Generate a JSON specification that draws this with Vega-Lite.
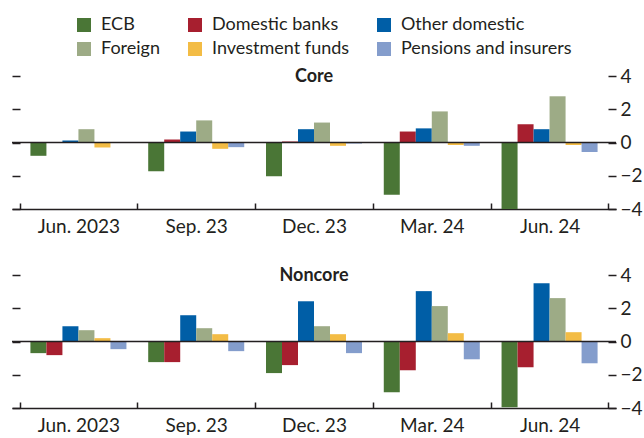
{
  "$schema": "https://vega.github.io/schema/vega-lite/v6.json",
  "padding": {"left": 11, "top": 16, "right": 0, "bottom": 0},
  "config": {
    "view": {"stroke": null},
    "font": "Lato, Liberation Sans, sans-serif",
    "axis": {"grid": false, "labelColor": "#231f20", "tickColor": "#231f20", "domainColor": "#231f20"}
  },
  "datasets": {
    "flows": [
      {"panel": "Core", "quarter": "Jun. 2023", "sector": "ECB", "value": -0.8},
      {"panel": "Core", "quarter": "Jun. 2023", "sector": "Domestic banks", "value": 0.0},
      {"panel": "Core", "quarter": "Jun. 2023", "sector": "Other domestic", "value": 0.12},
      {"panel": "Core", "quarter": "Jun. 2023", "sector": "Foreign", "value": 0.8},
      {"panel": "Core", "quarter": "Jun. 2023", "sector": "Investment funds", "value": -0.3},
      {"panel": "Core", "quarter": "Jun. 2023", "sector": "Pensions and insurers", "value": 0.0},
      {"panel": "Core", "quarter": "Sep. 23", "sector": "ECB", "value": -1.73},
      {"panel": "Core", "quarter": "Sep. 23", "sector": "Domestic banks", "value": 0.18},
      {"panel": "Core", "quarter": "Sep. 23", "sector": "Other domestic", "value": 0.66},
      {"panel": "Core", "quarter": "Sep. 23", "sector": "Foreign", "value": 1.33},
      {"panel": "Core", "quarter": "Sep. 23", "sector": "Investment funds", "value": -0.38},
      {"panel": "Core", "quarter": "Sep. 23", "sector": "Pensions and insurers", "value": -0.28},
      {"panel": "Core", "quarter": "Dec. 23", "sector": "ECB", "value": -2.03},
      {"panel": "Core", "quarter": "Dec. 23", "sector": "Domestic banks", "value": 0.06},
      {"panel": "Core", "quarter": "Dec. 23", "sector": "Other domestic", "value": 0.8},
      {"panel": "Core", "quarter": "Dec. 23", "sector": "Foreign", "value": 1.2},
      {"panel": "Core", "quarter": "Dec. 23", "sector": "Investment funds", "value": -0.2},
      {"panel": "Core", "quarter": "Dec. 23", "sector": "Pensions and insurers", "value": -0.06},
      {"panel": "Core", "quarter": "Mar. 24", "sector": "ECB", "value": -3.15},
      {"panel": "Core", "quarter": "Mar. 24", "sector": "Domestic banks", "value": 0.66},
      {"panel": "Core", "quarter": "Mar. 24", "sector": "Other domestic", "value": 0.85},
      {"panel": "Core", "quarter": "Mar. 24", "sector": "Foreign", "value": 1.87},
      {"panel": "Core", "quarter": "Mar. 24", "sector": "Investment funds", "value": -0.15},
      {"panel": "Core", "quarter": "Mar. 24", "sector": "Pensions and insurers", "value": -0.2},
      {"panel": "Core", "quarter": "Jun. 24", "sector": "ECB", "value": -4.0},
      {"panel": "Core", "quarter": "Jun. 24", "sector": "Domestic banks", "value": 1.1},
      {"panel": "Core", "quarter": "Jun. 24", "sector": "Other domestic", "value": 0.8},
      {"panel": "Core", "quarter": "Jun. 24", "sector": "Foreign", "value": 2.78},
      {"panel": "Core", "quarter": "Jun. 24", "sector": "Investment funds", "value": -0.15},
      {"panel": "Core", "quarter": "Jun. 24", "sector": "Pensions and insurers", "value": -0.57},
      {"panel": "Noncore", "quarter": "Jun. 2023", "sector": "ECB", "value": -0.7},
      {"panel": "Noncore", "quarter": "Jun. 2023", "sector": "Domestic banks", "value": -0.82},
      {"panel": "Noncore", "quarter": "Jun. 2023", "sector": "Other domestic", "value": 0.92},
      {"panel": "Noncore", "quarter": "Jun. 2023", "sector": "Foreign", "value": 0.68},
      {"panel": "Noncore", "quarter": "Jun. 2023", "sector": "Investment funds", "value": 0.2},
      {"panel": "Noncore", "quarter": "Jun. 2023", "sector": "Pensions and insurers", "value": -0.46},
      {"panel": "Noncore", "quarter": "Sep. 23", "sector": "ECB", "value": -1.24},
      {"panel": "Noncore", "quarter": "Sep. 23", "sector": "Domestic banks", "value": -1.24},
      {"panel": "Noncore", "quarter": "Sep. 23", "sector": "Other domestic", "value": 1.58},
      {"panel": "Noncore", "quarter": "Sep. 23", "sector": "Foreign", "value": 0.8},
      {"panel": "Noncore", "quarter": "Sep. 23", "sector": "Investment funds", "value": 0.44},
      {"panel": "Noncore", "quarter": "Sep. 23", "sector": "Pensions and insurers", "value": -0.58},
      {"panel": "Noncore", "quarter": "Dec. 23", "sector": "ECB", "value": -1.9},
      {"panel": "Noncore", "quarter": "Dec. 23", "sector": "Domestic banks", "value": -1.42},
      {"panel": "Noncore", "quarter": "Dec. 23", "sector": "Other domestic", "value": 2.42},
      {"panel": "Noncore", "quarter": "Dec. 23", "sector": "Foreign", "value": 0.92},
      {"panel": "Noncore", "quarter": "Dec. 23", "sector": "Investment funds", "value": 0.44},
      {"panel": "Noncore", "quarter": "Dec. 23", "sector": "Pensions and insurers", "value": -0.7},
      {"panel": "Noncore", "quarter": "Mar. 24", "sector": "ECB", "value": -3.05},
      {"panel": "Noncore", "quarter": "Mar. 24", "sector": "Domestic banks", "value": -1.73},
      {"panel": "Noncore", "quarter": "Mar. 24", "sector": "Other domestic", "value": 3.03},
      {"panel": "Noncore", "quarter": "Mar. 24", "sector": "Foreign", "value": 2.13},
      {"panel": "Noncore", "quarter": "Mar. 24", "sector": "Investment funds", "value": 0.5},
      {"panel": "Noncore", "quarter": "Mar. 24", "sector": "Pensions and insurers", "value": -1.07},
      {"panel": "Noncore", "quarter": "Jun. 24", "sector": "ECB", "value": -3.96},
      {"panel": "Noncore", "quarter": "Jun. 24", "sector": "Domestic banks", "value": -1.55},
      {"panel": "Noncore", "quarter": "Jun. 24", "sector": "Other domestic", "value": 3.51},
      {"panel": "Noncore", "quarter": "Jun. 24", "sector": "Foreign", "value": 2.61},
      {"panel": "Noncore", "quarter": "Jun. 24", "sector": "Investment funds", "value": 0.56},
      {"panel": "Noncore", "quarter": "Jun. 24", "sector": "Pensions and insurers", "value": -1.31}
    ],
    "zero": [{"v": 0}]
  },
  "spacing": 30,
  "vconcat": [
    {
      "width": 604,
      "height": 133,
      "title": {"text": "Core", "offset": 0, "baseline": "middle", "dy": 28, "fontSize": 18, "fontWeight": "bold", "anchor": "middle", "color": "#231f20"},
      "layer": [
        {
          "data": {"name": "flows"},
          "transform": [{"filter": "datum.panel == 'Core'"}],
          "mark": {"type": "bar"},
          "encoding": {
            "x": {"field": "quarter", "type": "nominal", "sort": ["Jun. 2023", "Sep. 23", "Dec. 23", "Mar. 24", "Jun. 24"],
              "scale": {"paddingInner": 0, "paddingOuter": 0.064},
              "axis": {"title": null, "labelAngle": 0, "tickBand": "extent", "tickSize": -6, "tickWidth": 1.5, "domainWidth": 1.5, "labelFontSize": 19, "labelPadding": 14}},
            "xOffset": {"field": "sector", "type": "nominal", "sort": ["ECB", "Domestic banks", "Other domestic", "Foreign", "Investment funds", "Pensions and insurers"],
              "scale": {"paddingInner": 0, "paddingOuter": 0.68}},
            "y": {"field": "value", "type": "quantitative", "scale": {"domain": [-4, 4]},
              "axis": {"orient": "left", "title": null, "labels": false, "domain": false, "values": [-4, -2, 0, 2, 4], "tickSize": -8, "tickWidth": 1.5}},
            "color": {"field": "sector", "type": "nominal", "sort": ["ECB", "Domestic banks", "Other domestic", "Foreign", "Investment funds", "Pensions and insurers"],
              "scale": {"domain": ["ECB", "Domestic banks", "Other domestic", "Foreign", "Investment funds", "Pensions and insurers"],
                "range": ["#4a7636", "#a71f2f", "#005ea6", "#9dab86", "#f3bc45", "#849dcc"]},
              "legend": {"title": null, "orient": "none", "legendX": 63, "legendY": -60, "direction": "horizontal", "columns": 3, "symbolType": "square", "symbolSize": 196, "symbolStrokeWidth": 0, "symbolOpacity": 1,
                "labelFontSize": 18, "labelOffset": 8, "labelLimit": 300, "columnPadding": 25, "rowPadding": 6, "labelColor": "#231f20"}}
          }
        },
        {
          "data": {"name": "zero"},
          "mark": {"type": "rule", "color": "#231f20", "strokeWidth": 1.5},
          "encoding": {
            "y": {"field": "v", "type": "quantitative", "scale": {"domain": [-4, 4]},
              "axis": {"orient": "right", "title": null, "domain": false, "values": [-4, -2, 0, 2, 4], "tickSize": -8, "tickWidth": 1.5, "labelFontSize": 19, "labelPadding": 12}}
          }
        }
      ],
      "resolve": {"axis": {"y": "independent"}}
    },
    {
      "width": 604,
      "height": 133,
      "title": {"text": "Noncore", "offset": 0, "baseline": "middle", "dy": 28, "fontSize": 18, "fontWeight": "bold", "anchor": "middle", "color": "#231f20"},
      "layer": [
        {
          "data": {"name": "flows"},
          "transform": [{"filter": "datum.panel == 'Noncore'"}],
          "mark": {"type": "bar"},
          "encoding": {
            "x": {"field": "quarter", "type": "nominal", "sort": ["Jun. 2023", "Sep. 23", "Dec. 23", "Mar. 24", "Jun. 24"],
              "scale": {"paddingInner": 0, "paddingOuter": 0.064},
              "axis": {"title": null, "labelAngle": 0, "tickBand": "extent", "tickSize": -6, "tickWidth": 1.5, "domainWidth": 1.5, "labelFontSize": 19, "labelPadding": 14}},
            "xOffset": {"field": "sector", "type": "nominal", "sort": ["ECB", "Domestic banks", "Other domestic", "Foreign", "Investment funds", "Pensions and insurers"],
              "scale": {"paddingInner": 0, "paddingOuter": 0.68}},
            "y": {"field": "value", "type": "quantitative", "scale": {"domain": [-4, 4]},
              "axis": {"orient": "left", "title": null, "labels": false, "domain": false, "values": [-4, -2, 0, 2, 4], "tickSize": -8, "tickWidth": 1.5}},
            "color": {"field": "sector", "type": "nominal", "sort": ["ECB", "Domestic banks", "Other domestic", "Foreign", "Investment funds", "Pensions and insurers"],
              "scale": {"domain": ["ECB", "Domestic banks", "Other domestic", "Foreign", "Investment funds", "Pensions and insurers"],
                "range": ["#4a7636", "#a71f2f", "#005ea6", "#9dab86", "#f3bc45", "#849dcc"]}}
          }
        },
        {
          "data": {"name": "zero"},
          "mark": {"type": "rule", "color": "#231f20", "strokeWidth": 1.5},
          "encoding": {
            "y": {"field": "v", "type": "quantitative", "scale": {"domain": [-4, 4]},
              "axis": {"orient": "right", "title": null, "domain": false, "values": [-4, -2, 0, 2, 4], "tickSize": -8, "tickWidth": 1.5, "labelFontSize": 19, "labelPadding": 12}}
          }
        }
      ],
      "resolve": {"axis": {"y": "independent"}}
    }
  ]
}
